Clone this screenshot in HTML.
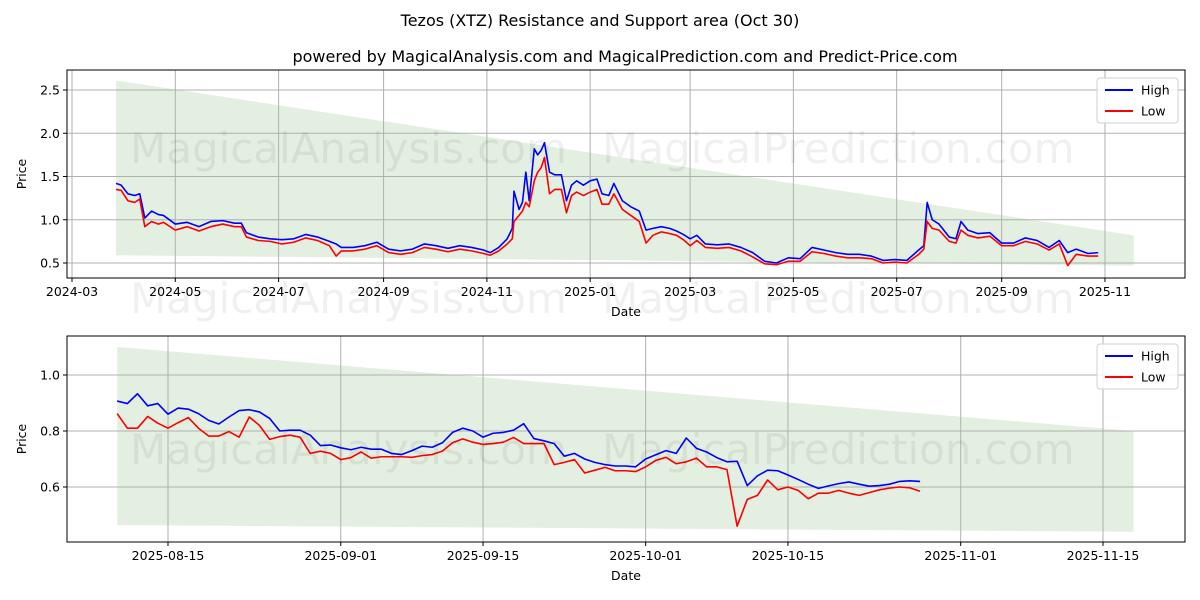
<!DOCTYPE html>
<html><head><meta charset="utf-8">
<style>
body{margin:0;background:#fff;overflow:hidden;}
svg{display:block;font-family:"DejaVu Sans","Liberation Sans",sans-serif;}
</style></head>
<body>
<svg id="c" width="1200" height="600" xmlns="http://www.w3.org/2000/svg">
<rect width="1200" height="600" fill="#fff"/>
<text x="600" y="26" text-anchor="middle" font-size="16">Tezos (XTZ) Resistance and Support area (Oct 30)</text>
<text x="625" y="62" text-anchor="middle" font-size="16">powered by MagicalAnalysis.com and MagicalPrediction.com and Predict-Price.com</text>
<g id="top"></g>
<g id="bot"></g>
<g fill="#000" fill-opacity="0.06" font-size="42">
<text x="130" y="163">MagicalAnalysis.com</text>
<text x="602" y="163">MagicalPrediction.com</text>
<text x="130" y="313">MagicalAnalysis.com</text>
<text x="602" y="313">MagicalPrediction.com</text>
<text x="130" y="464">MagicalAnalysis.com</text>
<text x="602" y="464">MagicalPrediction.com</text>
</g>
</svg>
<script>
// ---- Top chart data ----
const topDates = ["2024-03-27","2024-03-30","2024-04-03","2024-04-07","2024-04-10","2024-04-13","2024-04-17","2024-04-21","2024-04-24","2024-05-01","2024-05-08","2024-05-15","2024-05-22","2024-05-29","2024-06-05","2024-06-09","2024-06-12","2024-06-19","2024-06-26","2024-07-03","2024-07-10","2024-07-17","2024-07-24","2024-07-31","2024-08-04","2024-08-07","2024-08-14","2024-08-21","2024-08-28","2024-09-04","2024-09-11","2024-09-18","2024-09-25","2024-10-02","2024-10-09","2024-10-16","2024-10-23","2024-10-30","2024-11-03","2024-11-08","2024-11-13","2024-11-16","2024-11-17","2024-11-20","2024-11-22","2024-11-24","2024-11-26","2024-11-29","2024-12-01","2024-12-03","2024-12-05","2024-12-08","2024-12-11","2024-12-15","2024-12-18","2024-12-21","2024-12-24","2024-12-28","2025-01-01","2025-01-05","2025-01-08","2025-01-12","2025-01-15","2025-01-20","2025-01-25","2025-01-30","2025-02-03","2025-02-07","2025-02-12","2025-02-17","2025-02-21","2025-02-25","2025-03-01","2025-03-05","2025-03-10","2025-03-17","2025-03-24","2025-03-31","2025-04-07","2025-04-14","2025-04-21","2025-04-28","2025-05-05","2025-05-12","2025-05-19","2025-05-26","2025-06-02","2025-06-09","2025-06-16","2025-06-23","2025-06-30","2025-07-07","2025-07-14","2025-07-17","2025-07-19","2025-07-22","2025-07-26","2025-08-01","2025-08-05","2025-08-08","2025-08-12","2025-08-18","2025-08-25","2025-09-01","2025-09-08","2025-09-15","2025-09-22","2025-09-29","2025-10-05","2025-10-10","2025-10-15","2025-10-22","2025-10-28"];
const topHigh = [1.42,1.40,1.30,1.28,1.30,1.02,1.10,1.06,1.05,0.95,0.97,0.92,0.98,0.99,0.96,0.96,0.85,0.80,0.78,0.77,0.78,0.83,0.80,0.75,0.72,0.68,0.68,0.70,0.74,0.66,0.64,0.66,0.72,0.70,0.67,0.70,0.68,0.65,0.62,0.68,0.78,0.90,1.33,1.12,1.20,1.55,1.22,1.82,1.75,1.80,1.89,1.55,1.52,1.52,1.22,1.40,1.45,1.40,1.45,1.47,1.30,1.28,1.42,1.22,1.15,1.10,0.88,0.90,0.92,0.90,0.87,0.83,0.78,0.82,0.72,0.71,0.72,0.68,0.62,0.52,0.50,0.56,0.55,0.68,0.65,0.62,0.60,0.60,0.58,0.53,0.54,0.53,0.65,0.70,1.20,1.00,0.95,0.80,0.78,0.98,0.88,0.84,0.85,0.73,0.73,0.79,0.76,0.68,0.76,0.62,0.66,0.61,0.62];
const topLow = [1.35,1.34,1.22,1.20,1.24,0.92,0.98,0.95,0.97,0.88,0.92,0.87,0.92,0.95,0.92,0.92,0.80,0.76,0.75,0.72,0.74,0.79,0.76,0.70,0.58,0.64,0.64,0.66,0.70,0.62,0.60,0.62,0.68,0.66,0.63,0.66,0.64,0.61,0.59,0.64,0.72,0.78,0.98,1.05,1.10,1.20,1.15,1.45,1.55,1.60,1.72,1.30,1.35,1.35,1.08,1.28,1.32,1.28,1.32,1.35,1.18,1.18,1.30,1.12,1.05,0.98,0.73,0.82,0.86,0.84,0.82,0.77,0.70,0.76,0.68,0.67,0.68,0.64,0.57,0.49,0.48,0.52,0.52,0.63,0.61,0.58,0.56,0.56,0.55,0.50,0.51,0.50,0.60,0.66,0.98,0.90,0.88,0.75,0.73,0.88,0.82,0.79,0.81,0.70,0.70,0.75,0.72,0.65,0.72,0.47,0.60,0.58,0.58];
const topYTicks = [0.5,1.0,1.5,2.0,2.5];
const topXTicks = ["2024-03","2024-05","2024-07","2024-09","2024-11","2025-01","2025-03","2025-05","2025-07","2025-09","2025-11"];
const topBandStart = "2024-03-27", topBandEnd = "2025-11-18";
const topBandTop = [2.61,0.82];
const topBandBottom = [0.59,0.47];

// ---- Bottom chart data ----
const botStart = "2025-08-10";
const botHigh = [0.907,0.898,0.933,0.89,0.898,0.86,0.882,0.878,0.862,0.838,0.825,0.85,0.873,0.876,0.868,0.845,0.80,0.803,0.803,0.785,0.748,0.75,0.74,0.733,0.742,0.735,0.735,0.72,0.716,0.73,0.746,0.742,0.758,0.795,0.81,0.80,0.778,0.792,0.795,0.803,0.826,0.773,0.765,0.755,0.71,0.72,0.70,0.688,0.68,0.675,0.675,0.672,0.70,0.715,0.73,0.72,0.775,0.738,0.725,0.705,0.69,0.692,0.605,0.64,0.66,0.658,0.643,0.627,0.61,0.595,0.604,0.612,0.618,0.61,0.603,0.605,0.61,0.62,0.622,0.62];
const botLow = [0.862,0.81,0.81,0.852,0.828,0.81,0.83,0.848,0.81,0.782,0.782,0.798,0.778,0.85,0.82,0.77,0.78,0.785,0.778,0.72,0.728,0.72,0.698,0.705,0.725,0.703,0.708,0.708,0.708,0.706,0.712,0.716,0.728,0.758,0.772,0.76,0.752,0.755,0.76,0.777,0.755,0.755,0.755,0.68,0.688,0.698,0.65,0.66,0.67,0.658,0.658,0.655,0.672,0.695,0.706,0.683,0.69,0.703,0.672,0.672,0.662,0.46,0.556,0.57,0.625,0.59,0.6,0.588,0.558,0.578,0.578,0.588,0.578,0.57,0.58,0.59,0.596,0.6,0.597,0.585];
const botYTicks = [0.6,0.8,1.0];
const botXTicks = ["2025-08-15","2025-09-01","2025-09-15","2025-10-01","2025-10-15","2025-11-01","2025-11-15"];
const botBandStart = "2025-08-10", botBandEnd = "2025-11-18";
const botBandTop = [1.10,0.80];
const botBandBottom = [0.464,0.44];

const NS="http://www.w3.org/2000/svg";
function mk(parent,tag,attrs){const e=document.createElementNS(NS,tag);for(const k in attrs)e.setAttribute(k,attrs[k]);parent.appendChild(e);return e;}
function day(s){if(s.length===7)s+="-01";return Date.UTC(+s.slice(0,4),+s.slice(5,7)-1,+s.slice(8,10))/86400000;}

function drawPanel(g,cfg){
  const {L,R,T,B,d0,d1,v0,v1}=cfg;
  const x=d=>L+(d-d0)/(d1-d0)*(R-L);
  const y=v=>B-(v-v0)/(v1-v0)*(B-T);
  const bs=day(cfg.bandStart),be=day(cfg.bandEnd);
  const band=mk(g,"polygon",{points:`${x(bs)},${y(cfg.bandTop[0])} ${x(be)},${y(cfg.bandTop[1])} ${x(be)},${y(cfg.bandBottom[1])} ${x(bs)},${y(cfg.bandBottom[0])}`,fill:"#e3efe1"});
  
  
  cfg.yTicks.forEach(v=>{
    const gl=mk(g,"line",{x1:L,x2:R,y1:y(v),y2:y(v),stroke:"#b0b0b0","stroke-width":1});
    
    
    mk(g,"line",{x1:L-4,x2:L,y1:y(v),y2:y(v),stroke:"#000"});
    const t=mk(g,"text",{x:L-7,y:y(v)+4.5,"text-anchor":"end","font-size":12.5});
    t.textContent=v.toFixed(1);
    
    
  });
  cfg.xTicks.forEach(s=>{
    const xx=x(day(s));
    const gl=mk(g,"line",{x1:xx,x2:xx,y1:T,y2:B,stroke:"#b0b0b0","stroke-width":1});
    
    
    mk(g,"line",{x1:xx,x2:xx,y1:B,y2:B+4,stroke:"#000"});
    const t=mk(g,"text",{x:xx,y:B+18,"text-anchor":"middle","font-size":12.5});
    t.textContent=s;
    
    
  });
  [["high",cfg.high,"#0000ff"],["low",cfg.low,"#ff0000"]].forEach(([nm,vals,col])=>{
    const pts=vals.map((v,i)=>`${x(cfg.dates[i])},${y(v)}`).join(" ");
    const pl=mk(g,"polyline",{points:pts,fill:"none",stroke:col,"stroke-width":1.6,"stroke-linejoin":"round"});
    
    
  });
  const fr=mk(g,"rect",{x:L,y:T,width:R-L,height:B-T,fill:"none",stroke:"#000","stroke-width":1});
  
  
  const xl=mk(g,"text",{x:(L+R)/2,y:B+38,"text-anchor":"middle","font-size":12.5});
  xl.textContent="Date";
  
  
  const yl=mk(g,"text",{x:0,y:0,"text-anchor":"middle","font-size":12.5,transform:`translate(26,${(T+B)/2}) rotate(-90)`});
  yl.textContent="Price";
  
  
  const lg=mk(g,"g",{});
  
  
  mk(lg,"rect",{x:R-88,y:T+8,width:81,height:45,rx:3,fill:"#fff","fill-opacity":0.85,stroke:"#d0d0d0"});
  [["High","#0000ff",T+20],["Low","#ff0000",T+41]].forEach(([lab,col,yy])=>{
    const e=mk(lg,"g",{});
    
    
    mk(e,"line",{x1:R-80,x2:R-52,y1:yy,y2:yy,stroke:col,"stroke-width":2});
    const t=mk(e,"text",{x:R-44,y:yy+4.5,"font-size":12.5});
    t.textContent=lab;
  });
}

const topG=document.getElementById("top");


const tD0=day("2024-03-01")-5/1.6934;
drawPanel(topG,{L:67,R:1185,T:70,B:278,d0:tD0,d1:tD0+1118/1.6934,v0:0.5-15/86.5,v1:0.5+193/86.5,
  dates:topDates.map(day),high:topHigh,low:topLow,yTicks:topYTicks,xTicks:topXTicks,
  bandStart:topBandStart,bandEnd:topBandEnd,bandTop:topBandTop,bandBottom:topBandBottom});

const botG=document.getElementById("bot");


const bD0=day("2025-08-15")-101/10.163;
const bs0=day(botStart);
drawPanel(botG,{L:67,R:1185,T:336,B:542,d0:bD0,d1:bD0+1118/10.163,v0:0.6-55/280,v1:0.6+151/280,
  dates:botHigh.map((_,i)=>bs0+i),high:botHigh,low:botLow,yTicks:botYTicks,xTicks:botXTicks,
  bandStart:botBandStart,bandEnd:botBandEnd,bandTop:botBandTop,bandBottom:botBandBottom});
</script>
</body></html>
